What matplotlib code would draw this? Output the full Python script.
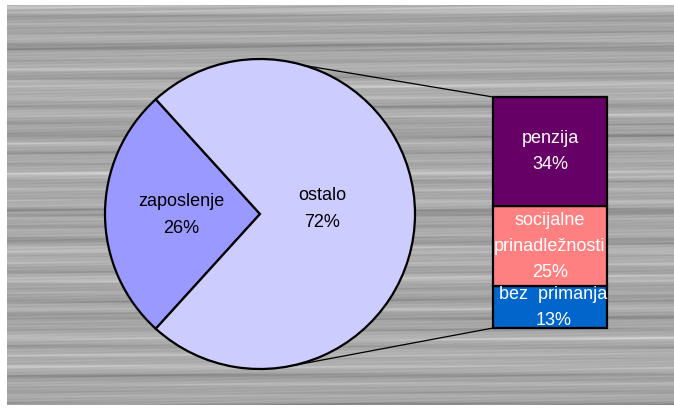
import numpy as np
import matplotlib
matplotlib.use("Agg")
import matplotlib.pyplot as plt
from matplotlib.patches import ConnectionPatch

plt.rcParams['font.family'] = ['Liberation Sans', 'DejaVu Sans']

# pie data
pie_labels = ['zaposlenje', 'ostalo']
pie_values = [26, 72]
pie_colors = ['#9999FF', '#CCCCFF']

# breakdown of "ostalo" (bottom to top)
bar_labels = ['bez  primanja', 'socijalne\nprinadležnosti', 'penzija']
bar_values = [13, 25, 34]
bar_colors = ['#0066CC', '#FF8080', '#660066']

W, H = 674, 408
fig = plt.figure(figsize=(W / 100, H / 100), dpi=100)
fig.set_facecolor('white')
ax = fig.add_axes([0, 0, 1, 1])

# grey wood-like background (deterministic soft streaks)
yy = np.arange(400)[:, None].astype(float)
xx = np.arange(667)[None, :].astype(float)
rows = (0.07 * np.sin(yy * 0.42) + 0.05 * np.sin(yy * 0.23 + 1.0)
        + 0.04 * np.sin(yy * 0.071 + 2.0) + 0.03 * np.sin(yy * 1.1))
wave = 0.55 + 0.45 * np.sin(xx * 0.011 + yy * 0.9) * np.sin(xx * 0.004 + yy * 0.31)
tex = 0.66 + rows * wave + 0.015 * np.sin(xx * 0.05 + yy * 2.1)
ax.imshow(tex, cmap='gray', vmin=0, vmax=1, extent=(7, 674, 405, 5),
          aspect='auto', interpolation='bilinear')

# pie
cx, cy, r = 260, 214, 155
frac = pie_values[0] / sum(pie_values)
ax.pie(pie_values, colors=pie_colors, startangle=180 - frac * 180,
       center=(cx, cy), radius=r,
       wedgeprops=dict(edgecolor='black', linewidth=1.6))

ax.text(181, 215, f'{pie_labels[0]}\n{pie_values[0]}%', ha='center',
        va='center', fontsize=13, linespacing=1.8, color='black')
ax.text(322, 209, f'{pie_labels[1]}\n{pie_values[1]}%', ha='center',
        va='center', fontsize=13, linespacing=1.75, color='black')

ax.set_xlim(0, W)
ax.set_ylim(H, 0)
ax.axis('off')

# stacked bar for the "ostalo" breakdown
bax = fig.add_axes([493 / W, (H - 328) / H, 114 / W, 231 / H])
bottom = 0
for lab, val, col in zip(bar_labels, bar_values, bar_colors):
    bax.bar(0, val, width=1, bottom=bottom, color=col, edgecolor='black',
            linewidth=1.6, clip_on=False)
    xoff = 0.03 if 'bez' in lab else 0
    bax.text(xoff, bottom + val / 2, f'{lab}\n{val}%', ha='center',
             va='center', fontsize=13, linespacing=1.7, color='white')
    bottom += val
bax.set_xlim(-0.5, 0.5)
bax.set_ylim(0, sum(bar_values))
bax.axis('off')

# connector lines
a_top, a_bot = np.radians(73.4), np.radians(-80)
top_pt = (cx + r * np.cos(a_top), cy - r * np.sin(a_top))
bot_pt = (cx + r * np.cos(a_bot), cy - r * np.sin(a_bot))
for pt, yb in [(top_pt, sum(bar_values)), (bot_pt, 0)]:
    con = ConnectionPatch(xyA=(-0.5, yb), coordsA=bax.transData,
                          xyB=pt, coordsB=ax.transData,
                          color='black', linewidth=0.9)
    fig.add_artist(con)

fig.savefig('out.png', dpi=100)
